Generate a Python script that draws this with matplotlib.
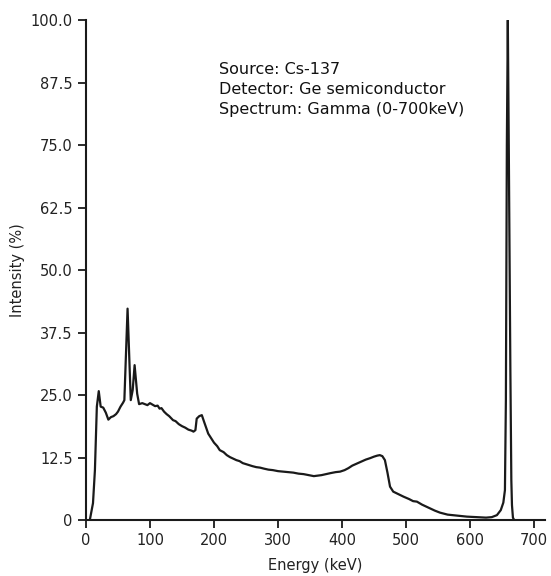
import matplotlib.pyplot as plt

# gamma spectrum of Cs-137
energy = [0, 6, 11, 14, 17, 20, 23, 27, 31, 35, 39, 43, 47, 50, 54, 58, 60, 65, 70, 73,
          76, 80, 83, 88, 92, 96, 100, 104, 108, 112, 115, 118, 122, 126, 130, 136, 140,
          145, 150, 155, 160, 165, 168, 171, 173, 177, 181, 185, 191, 196, 200, 205, 209,
          215, 220, 225, 230, 235, 240, 245, 250, 255, 260, 266, 272, 278, 285, 292, 300,
          308, 316, 324, 332, 340, 348, 356, 362, 368, 375, 382, 390, 397, 404, 410, 416,
          423, 430, 437, 444, 450, 455, 459, 463, 467, 471, 475, 480, 488, 496, 505, 511,
          517, 525, 535, 545, 553, 565, 580, 595, 610, 625, 634, 642, 648, 652, 654.5, 656,
          657.5, 659, 660.5, 663, 664.5, 665.5, 667, 669, 717]
intensity = [0, 0, 3.4, 10, 22.7, 25.8, 22.7, 22.5, 21.5, 20.1, 20.6, 20.8, 21.2, 21.7, 22.7,
             23.5, 24, 42.3, 24, 26, 31, 25.3, 23.2, 23.4, 23.2, 23.0, 23.4, 23.1, 22.8, 22.9,
             22.3, 22.4, 21.7, 21.2, 20.8, 20.0, 19.8, 19.2, 18.8, 18.5, 18.1, 17.9, 17.7,
             18.0, 20.3, 20.8, 21.0, 19.5, 17.3, 16.3, 15.5, 14.8, 14.0, 13.6, 13.0, 12.6,
             12.3, 12.0, 11.8, 11.4, 11.2, 11.0, 10.8, 10.6, 10.5, 10.3, 10.1, 10.0, 9.8, 9.7,
             9.6, 9.5, 9.3, 9.2, 9.0, 8.8, 8.9, 9.0, 9.2, 9.4, 9.6, 9.7, 10.0, 10.4, 10.9,
             11.3, 11.7, 12.1, 12.4, 12.7, 12.9, 13.0, 12.8, 12.0, 9.5, 6.7, 5.7, 5.2, 4.7,
             4.2, 3.8, 3.7, 3.1, 2.5, 1.9, 1.5, 1.1, 0.9, 0.7, 0.6, 0.5, 0.6, 1.0, 2.0, 3.5,
             6, 24, 75, 100, 75, 30, 8, 3, 0.5, 0, float('nan')]

yticks = [0, 12.5, 25.0, 37.5, 50.0, 62.5, 75.0, 87.5, 100.0]
ytick_labels = ['0', '12.5', '25.0', '37.5', '50.0', '62.5', '75.0', '87.5', '100.0']
xticks = [0, 100, 200, 300, 400, 500, 600, 700]

info = 'Source: Cs-137\nDetector: Ge semiconductor\nSpectrum: Gamma (0-700keV)'

fig = plt.figure(figsize=(5.51, 5.76), dpi=100)
ax = fig.add_axes([0.156, 0.097, 0.833, 0.868])

ax.plot(energy, intensity, color='#1a1a1a', lw=1.6)

ax.set_xlim(0, 717)
ax.set_ylim(0, 100)
ax.set_yticks(yticks)
ax.set_yticklabels(ytick_labels)
ax.set_xticks(xticks)
ax.tick_params(labelsize=10.5, width=1.3, length=5.5, pad=4, color='#1a1a1a', labelcolor='#222222')

for side in ['top', 'right']:
    ax.spines[side].set_visible(False)
for side in ['left', 'bottom']:
    ax.spines[side].set_linewidth(1.5)
    ax.spines[side].set_color('#1a1a1a')

ax.set_xlabel('Energy (keV)', fontsize=10.5, color='#222222', labelpad=7)
ax.set_ylabel('Intensity (%)', fontsize=10.5, color='#222222', labelpad=4)

ax.text(208, 91.6, info, fontsize=11.5, va='top', ha='left', color='#111111', linespacing=1.4)

fig.savefig('out.png', dpi=100)
